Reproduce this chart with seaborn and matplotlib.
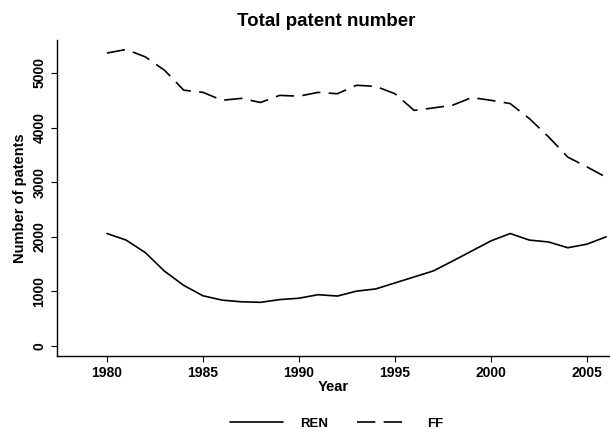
import numpy as np
import pandas as pd
import matplotlib
matplotlib.use("Agg")
import matplotlib.pyplot as plt
import seaborn as sns

years = list(range(1980, 2007))
ren = [2060, 1940, 1710, 1370, 1110, 920, 840, 810, 800, 850, 875, 940, 915, 1005, 1045,
       1155, 1265, 1375, 1555, 1740, 1925, 2060, 1940, 1905, 1800, 1865, 2000]
ff = [5365, 5430, 5295, 5050, 4685, 4645, 4500, 4535, 4460, 4590, 4575, 4645, 4620, 4775, 4755,
      4620, 4315, 4360, 4410, 4550, 4500, 4440, 4165, 3830, 3460, 3280, 3090]
series_names = ["REN", "FF"]
y_ticks = [0, 1000, 2000, 3000, 4000, 5000]
x_ticks = [1980, 1985, 1990, 1995, 2000, 2005]

df = pd.DataFrame({
    "Year": years * 2,
    "value": ren + ff,
    "series": [series_names[0]] * len(years) + [series_names[1]] * len(years),
})

sns.set_theme(style="ticks")
plt.rcParams["font.family"] = ["Liberation Sans", "DejaVu Sans"]
plt.rcParams["text.color"] = "black"
plt.rcParams["axes.labelcolor"] = "black"
plt.rcParams["xtick.color"] = "black"
plt.rcParams["ytick.color"] = "black"

fig = plt.figure(figsize=(6.10, 4.34), dpi=100)
ax = fig.add_axes([57 / 610, 1 - 356 / 434, (610 - 57) / 610, (356 - 40) / 434])

sns.lineplot(data=df, x="Year", y="value", style="series", style_order=series_names,
             dashes={"REN": "", "FF": (11, 5)}, color="black", linewidth=1.2,
             ax=ax, legend=True)

ax.set_xlim(1977.4, 2006.2)
ax.set_ylim(-183, 5604)
ax.set_xticks(x_ticks)
ax.set_yticks(y_ticks)
ax.set_xticklabels([str(t) for t in x_ticks], fontsize=10, fontweight="bold")
ax.set_yticklabels([str(t) for t in y_ticks], fontsize=10, fontweight="bold", rotation=90, va="center")
ax.set_xlabel("Year", fontsize=10.5, fontweight="bold", labelpad=0)
ax.set_ylabel("Number of patents", fontsize=10.5, fontweight="bold", labelpad=4)
ax.set_title("Total patent number", fontsize=13.5, fontweight="bold", pad=10, x=0.486, color="black")
sns.despine(ax=ax)
for s in ["left", "bottom"]:
    ax.spines[s].set_linewidth(1.0)
    ax.spines[s].set_color("black")
ax.tick_params(axis="both", length=4, width=0.8, color="black", labelcolor="black")

handles, labels = ax.get_legend_handles_labels()
leg = ax.legend(handles=handles, labels=labels, loc="center", bbox_to_anchor=(0.506, -0.215),
                ncol=2, frameon=False, handlelength=4.0, columnspacing=2.2, handletextpad=1.3,
                prop={"weight": "bold", "size": 9.5})
for t in leg.get_texts():
    t.set_color("black")

fig.savefig("out.png", dpi=100)
